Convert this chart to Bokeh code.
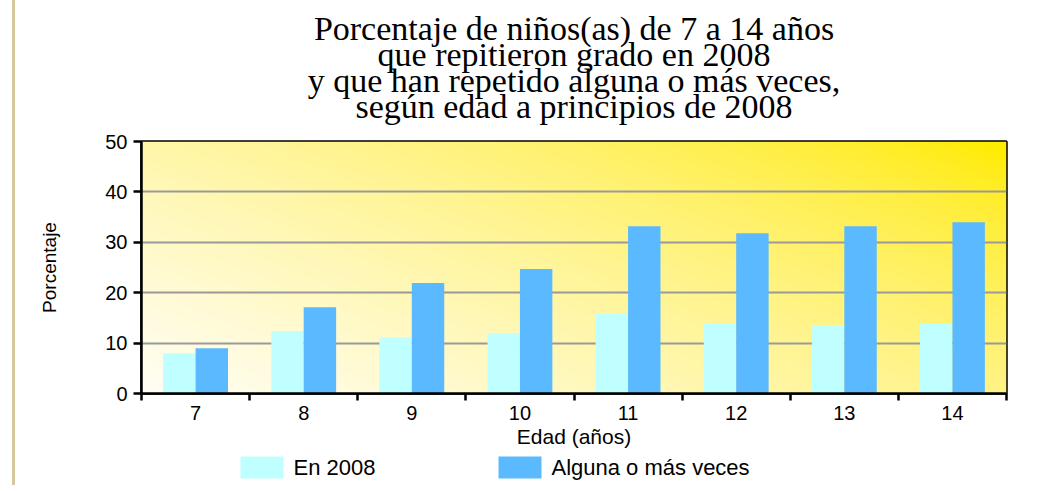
import numpy as np
from bokeh.plotting import figure
from bokeh.layouts import column
from bokeh.models import (ColumnDataSource, Range1d, FixedTicker, Title)
from bokeh.core.properties import value
from bokeh.transform import dodge
from bokeh.embed import file_html
from bokeh.resources import INLINE

# ---------------- data ----------------
ages = ["7", "8", "9", "10", "11", "12", "13", "14"]
en_2008 = [8.0, 12.4, 11.1, 12.0, 15.8, 13.8, 13.6, 13.8]
alguna_vez = [9.0, 17.1, 21.9, 24.7, 33.2, 31.8, 33.2, 34.0]
y_ticks = [0, 10, 20, 30, 40, 50]
series_names = ["En 2008", "Alguna o más veces"]
series_colors = ["#C0FFFF", "#5BB9FF"]
title_lines = [
    "Porcentaje de niños(as) de 7 a 14 años",
    "que repitieron grado en 2008",
    "y que han repetido alguna o más veces,",
    "según edad a principios de 2008",
]
x_label = "Edad (años)"
y_label = "Porcentaje"

# ---------------- layout ----------------
PAGE_SHIFT = 15          # 12px margin + 3px tan rule on the left
FW = 865
ML, MT, MR, MB = 141 - PAGE_SHIFT, 141, 28, 58
MAIN_H = MT + 252 + MB
LEG_H = 34
TOTAL_W = ML + FW + MR
Y0, Y1 = 0, 50
X0, X1 = -0.5, len(ages) - 0.5
rule_style = {"margin-left": "12px", "border-left": "3px solid #D6C69E"}
font = "Liberation Sans"

idx = list(range(len(ages)))
src = ColumnDataSource(dict(x=idx, en=en_2008, alg=alguna_vez, age=ages))

p = figure(width=TOTAL_W, height=MAIN_H,
           x_range=Range1d(X0, X1), y_range=Range1d(Y0, Y1),
           output_backend="svg", toolbar_location=None,
           min_border_left=ML, min_border_top=MT,
           min_border_right=MR, min_border_bottom=MB,
           background_fill_color="white", border_fill_color="white")
p.styles = rule_style
p.outline_line_color = "black"
p.outline_line_width = 2.5

# gradient background (pale cream bottom-left -> bright yellow top-right)
H, W = 120, 400
u = np.linspace(0, 1, W)[None, :]
v = np.linspace(0, 1, H)[:, None]
t = np.clip(0.6 * u + 0.42 * v, 0, 1)
img = np.empty((H, W), dtype=np.uint32)
view = img.view(dtype=np.uint8).reshape((H, W, 4))
view[..., 0] = 255
view[..., 1] = np.clip(254 - 18 * t, 0, 255).astype(np.uint8)
view[..., 2] = np.clip(245 * (1 - t) ** 0.67, 0, 255).astype(np.uint8)
view[..., 3] = 255
p.image_rgba(image=[img], x=X0, y=Y0, dw=X1 - X0, dh=Y1 - Y0, level="image")

p.vbar(x=dodge("x", -0.15), top="en", width=0.3, source=src,
       fill_color=series_colors[0], line_color=None)
p.vbar(x=dodge("x", 0.15), top="alg", width=0.3, source=src,
       fill_color=series_colors[1], line_color=None)

# axes
p.xaxis.ticker = FixedTicker(ticks=idx, minor_ticks=[i - 0.5 for i in range(len(ages) + 1)])
p.xaxis.major_label_overrides = {i: a for i, a in enumerate(ages)}
p.xaxis.major_tick_out = 0
p.xaxis.major_tick_in = 0
p.xaxis.minor_tick_out = 7
p.xaxis.minor_tick_in = 0
p.xaxis.minor_tick_line_color = "black"
p.xaxis.minor_tick_line_width = 2.5
p.xaxis.major_label_standoff = 5
p.xaxis.axis_label = x_label
p.xaxis.axis_label_standoff = 2

p.yaxis.ticker = FixedTicker(ticks=y_ticks)
p.yaxis.major_tick_out = 8
p.yaxis.major_tick_in = 0
p.yaxis.major_label_standoff = 6
p.yaxis.axis_label = y_label
p.yaxis.axis_label_standoff = 42
p.yaxis.axis_label_text_font = font
p.yaxis.axis_label_text_font_size = "19px"

for ax in (p.xaxis[0], p.yaxis[0]):
    ax.axis_line_color = "black"
    ax.axis_line_width = 2.5
    ax.major_tick_line_color = "black"
    ax.major_tick_line_width = 2.5
    ax.major_label_text_font = font
    ax.major_label_text_font_size = "20px"
    ax.major_label_text_color = "black"
    ax.axis_label_text_color = "black"
    ax.axis_label_text_font_style = "normal"
p.xaxis.axis_label_text_font = font
p.xaxis.axis_label_text_font_size = "21px"

p.xgrid.visible = False
p.ygrid.grid_line_color = "#9A9A9A"
p.ygrid.grid_line_width = 2

# title: four centered serif lines; a blank spacer keeps them off the frame
p.add_layout(Title(text=" ", text_font_size="19px", standoff=0), "above")
for line in reversed(title_lines):
    p.add_layout(Title(text=line, align="center",
                       text_font="Liberation Serif", text_font_size="34px",
                       text_font_style="normal", text_color="black",
                       text_line_height=0.8, standoff=-13), "above")

# legend strip below the chart; its frame is aligned with the main frame,
# so its x range is expressed in page pixels of that frame (141 .. 1006)
FRAME_L = ML + PAGE_SHIFT
lg = figure(width=TOTAL_W, height=LEG_H,
            x_range=Range1d(FRAME_L, FRAME_L + FW), y_range=Range1d(0, LEG_H),
            output_backend="svg", toolbar_location=None,
            x_axis_location=None, y_axis_location=None,
            min_border_left=ML, min_border_right=MR,
            min_border_top=0, min_border_bottom=0, outline_line_color=None,
            background_fill_color="white", border_fill_color="white")
lg.styles = rule_style
lg.grid.visible = False
swatch_left = [240, 498]
SW, SH, MID = 43, 22, LEG_H - 16
leg_src = ColumnDataSource(dict(
    x=[s + SW / 2 for s in swatch_left],
    tx=[s + SW + 10 for s in swatch_left],
    y=[MID, MID], name=series_names, color=series_colors))
lg.rect(x="x", y="y", width=SW, height=SH, source=leg_src,
        fill_color="color", line_color=None)
lg.text(x="tx", y="y", text="name", source=leg_src,
        text_font=value(font), text_font_size="22px", text_color="black",
        text_align="left", text_baseline="middle")

layout = column(p, lg, spacing=0)
open("out.html", "w").write(file_html(layout, INLINE))
